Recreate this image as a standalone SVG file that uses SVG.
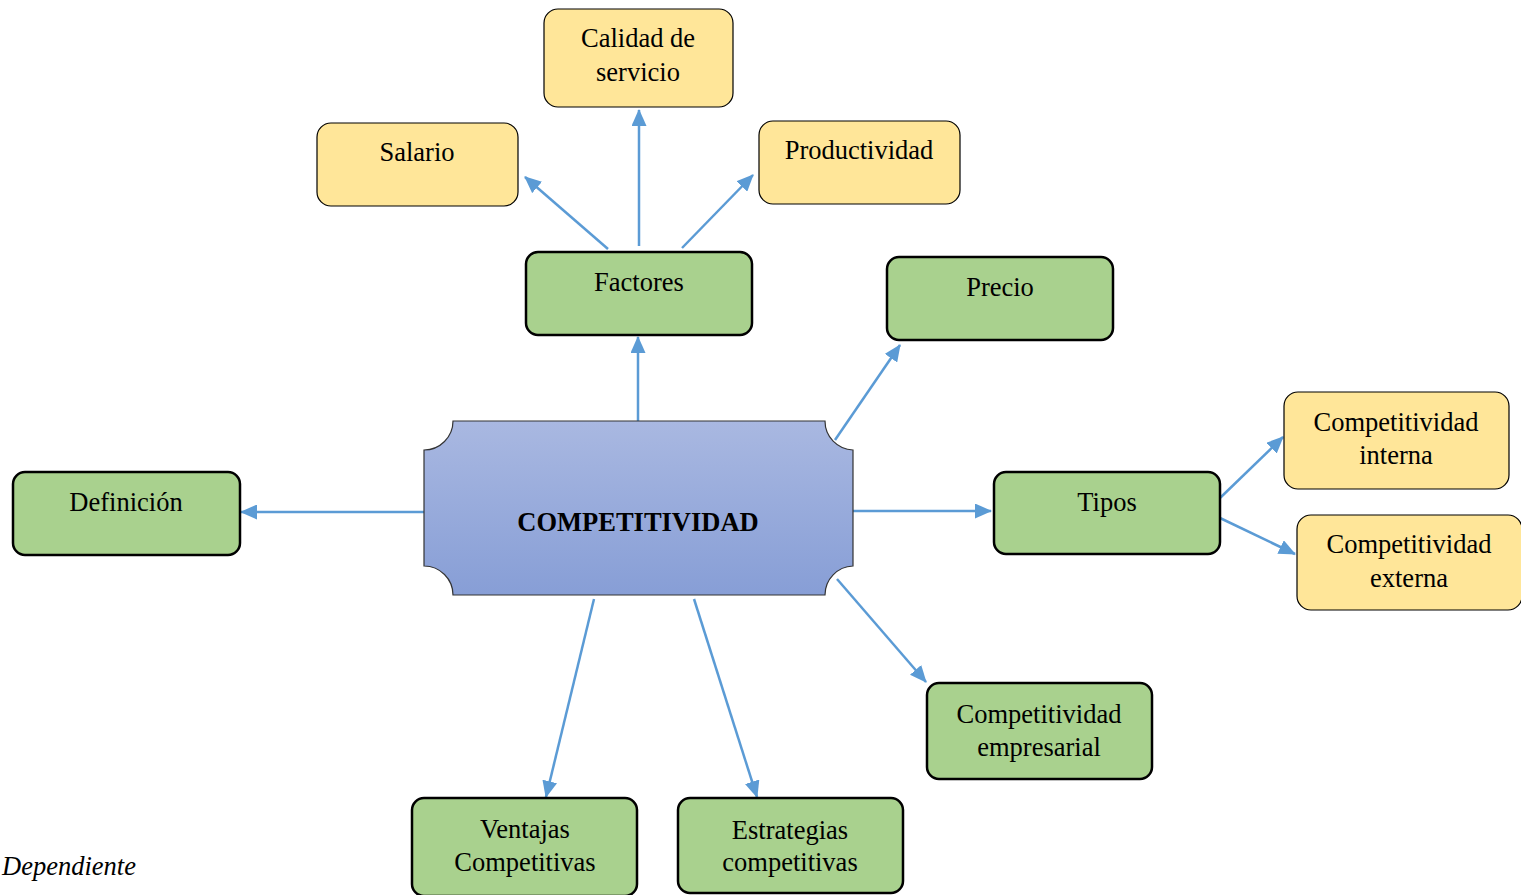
<svg xmlns="http://www.w3.org/2000/svg" width="1521" height="895" viewBox="0 0 1521 895">
<defs>
<linearGradient id="cg" x1="0" y1="0" x2="0" y2="1">
<stop offset="0" stop-color="#A9B8E1"/>
<stop offset="1" stop-color="#879ED6"/>
</linearGradient>
<marker id="ah" markerUnits="userSpaceOnUse" markerWidth="17" markerHeight="15" refX="16" refY="7.5" orient="auto">
<path d="M0,0 L17,7.5 L0,15 Z" fill="#5B9BD5"/>
</marker>
</defs>
<style>
.g{fill:#A9D18E;stroke:#000;stroke-width:2.5}
.y{fill:#FFE699;stroke:#000;stroke-width:1.2}
.t{font-family:"Liberation Serif","Times New Roman",serif;font-size:26.5px;fill:#000;text-anchor:middle}
.c{stroke:#5B9BD5;stroke-width:2.5;fill:none;marker-end:url(#ah)}
</style>
<rect width="1521" height="895" fill="#fff"/>
<g id="connectors">
<line class="c" x1="608" y1="249" x2="525" y2="177"/>
<line class="c" x1="639" y1="246" x2="639" y2="110"/>
<line class="c" x1="682" y1="248" x2="753" y2="175"/>
<line class="c" x1="638" y1="430" x2="638" y2="337"/>
<line class="c" x1="835" y1="440" x2="900" y2="345"/>
<line class="c" x1="424" y1="512" x2="241" y2="512"/>
<line class="c" x1="853" y1="511" x2="991" y2="511"/>
<line class="c" x1="1220" y1="498" x2="1283" y2="437"/>
<line class="c" x1="1220" y1="518" x2="1295" y2="554"/>
<line class="c" x1="837" y1="579" x2="926" y2="682"/>
<line class="c" x1="594" y1="599" x2="546" y2="797"/>
<line class="c" x1="694" y1="599" x2="757" y2="797"/>
</g>
<g id="competitividad">
<path d="M453,421 L825,421 A29,29 0 0 0 853,450 L853,566 A29,29 0 0 0 825,595 L453,595 A29,29 0 0 0 424,566 L424,450 A29,29 0 0 0 453,421 Z" fill="url(#cg)" stroke="#333" stroke-width="1.2"/>
<text class="t" x="638" y="531" font-weight="bold">COMPETITIVIDAD</text>
</g>
<g id="calidad">
<rect class="y" x="544" y="9" width="189" height="98" rx="14"/>
<text class="t" x="638" y="47">Calidad de</text>
<text class="t" x="638" y="81">servicio</text>
</g>
<g id="salario">
<rect class="y" x="317" y="123" width="201" height="83" rx="14"/>
<text class="t" x="417" y="161">Salario</text>
</g>
<g id="productividad">
<rect class="y" x="759" y="121" width="201" height="83" rx="14"/>
<text class="t" x="859" y="159">Productividad</text>
</g>
<g id="factores">
<rect class="g" x="526" y="252" width="226" height="83" rx="12"/>
<text class="t" x="639" y="291">Factores</text>
</g>
<g id="precio">
<rect class="g" x="887" y="257" width="226" height="83" rx="12"/>
<text class="t" x="1000" y="296">Precio</text>
</g>
<g id="interna">
<rect class="y" x="1284" y="392" width="225" height="97" rx="14"/>
<text class="t" x="1396" y="431">Competitividad</text>
<text class="t" x="1396" y="464">interna</text>
</g>
<g id="externa">
<rect class="y" x="1297" y="515" width="225" height="95" rx="14"/>
<text class="t" x="1409" y="553">Competitividad</text>
<text class="t" x="1409" y="587">externa</text>
</g>
<g id="tipos">
<rect class="g" x="994" y="472" width="226" height="82" rx="12"/>
<text class="t" x="1107" y="511">Tipos</text>
</g>
<g id="definicion">
<rect class="g" x="13" y="472" width="227" height="83" rx="12"/>
<text class="t" x="126" y="511">Definición</text>
</g>
<g id="empresarial">
<rect class="g" x="927" y="683" width="225" height="96" rx="12"/>
<text class="t" x="1039" y="723">Competitividad</text>
<text class="t" x="1039" y="756">empresarial</text>
</g>
<g id="ventajas">
<rect class="g" x="412" y="798" width="225" height="98" rx="12"/>
<text class="t" x="525" y="838">Ventajas</text>
<text class="t" x="525" y="871">Competitivas</text>
</g>
<g id="estrategias">
<rect class="g" x="678" y="798" width="225" height="95" rx="12"/>
<text class="t" x="790" y="839">Estrategias</text>
<text class="t" x="790" y="871">competitivas</text>
</g>
<text x="2" y="875" font-family="Liberation Serif, serif" font-size="26.5" font-style="italic">Dependiente</text>
</svg>
